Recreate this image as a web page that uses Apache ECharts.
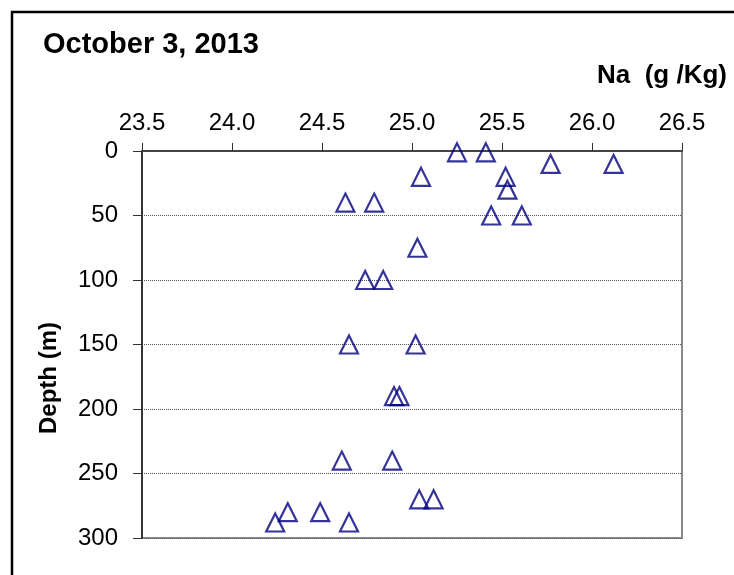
<!DOCTYPE html>
<html>
<head>
<meta charset="utf-8">
<title>Na vs Depth</title>
<script src="https://cdn.jsdelivr.net/npm/echarts@6/dist/echarts.min.js"></script>
<style>
  html, body { margin: 0; padding: 0; background: #fff; }
  #chart { width: 734px; height: 575px; }
</style>
</head>
<body>
<div id="chart"></div>
<script>
// Sodium concentration (g/Kg) and sampling depth (m), one entry per sample
const naValues = [
  25.25, 25.41,
  25.77, 26.12,
  25.05, 25.52,
  25.53,
  24.63, 24.79,
  25.44, 25.61,
  25.03,
  24.74, 24.84,
  24.65, 25.02,
  24.90, 24.93,
  24.61, 24.89,
  25.04, 25.12,
  24.31, 24.49,
  24.24, 24.65
];
const depthValues = [
  1, 1,
  10, 10,
  20, 20,
  30,
  40, 40,
  50, 50,
  75,
  100, 100,
  150, 150,
  190, 190,
  240, 240,
  270, 270,
  280, 280,
  288, 288
];

const titleText = 'October 3, 2013';
const xAxisName = 'Na  (g /Kg)';
const yAxisName = 'Depth (m)';

const points = naValues.map((v, i) => [v, depthValues[i]]);

const FONT = '"Liberation Sans", Arial, Helvetica, sans-serif';

const chart = echarts.init(document.getElementById('chart'), null, { renderer: 'canvas' });

chart.setOption({
  backgroundColor: '#ffffff',
  animation: false,
  grid: {
    left: 142, top: 151, right: 52, bottom: 37,
    show: true,
    borderColor: '#8a8a8a',
    borderWidth: 2,
    backgroundColor: '#ffffff'
  },
  xAxis: {
    type: 'value',
    position: 'top',
    min: 23.5,
    max: 26.5,
    interval: 0.5,
    axisLine: { show: true, onZero: false, lineStyle: { color: '#444', width: 2 } },
    axisTick: { show: true, inside: false, length: 8, lineStyle: { color: '#333', width: 1 } },
    axisLabel: {
      margin: 16,
      color: '#000',
      fontFamily: FONT,
      fontSize: 24,
      formatter: v => v.toFixed(1)
    },
    splitLine: { show: false }
  },
  yAxis: {
    type: 'value',
    inverse: true,
    min: 0,
    max: 300,
    interval: 50,
    axisLine: { show: true, onZero: false, lineStyle: { color: '#333', width: 2 } },
    axisTick: { show: true, inside: false, length: 9, lineStyle: { color: '#333', width: 1 } },
    axisLabel: {
      margin: 24,
      color: '#000',
      fontFamily: FONT,
      fontSize: 24
    },
    splitLine: { show: true, lineStyle: { color: '#555', width: 1, type: 'dotted' } }
  },
  series: [{
    type: 'scatter',
    data: points,
    symbol: 'triangle',
    symbolSize: 18,
    itemStyle: {
      color: 'rgba(0,0,0,0)',
      borderColor: '#000080',
      borderWidth: 2.2
    },
    emphasis: { disabled: true }
  }],
  graphic: [
    {
      type: 'rect',
      silent: true,
      z: 100,
      shape: { x: 12, y: 12, width: 800, height: 800 },
      style: { fill: 'none', stroke: '#000', lineWidth: 2.5 }
    },
    {
      type: 'text',
      silent: true,
      style: {
        text: titleText,
        x: 43, y: 45,
        align: 'left', verticalAlign: 'middle',
        font: 'bold 29px ' + FONT,
        fill: '#000'
      }
    },
    {
      type: 'text',
      silent: true,
      style: {
        text: xAxisName,
        x: 727, y: 76,
        align: 'right', verticalAlign: 'middle',
        font: 'bold 26px ' + FONT,
        fill: '#000'
      }
    },
    {
      type: 'text',
      silent: true,
      x: 49, y: 378,
      rotation: Math.PI / 2,
      style: {
        text: yAxisName,
        x: 0, y: 0,
        align: 'center', verticalAlign: 'middle',
        font: 'bold 24px ' + FONT,
        fill: '#000'
      }
    }
  ]
});
</script>
</body>
</html>
